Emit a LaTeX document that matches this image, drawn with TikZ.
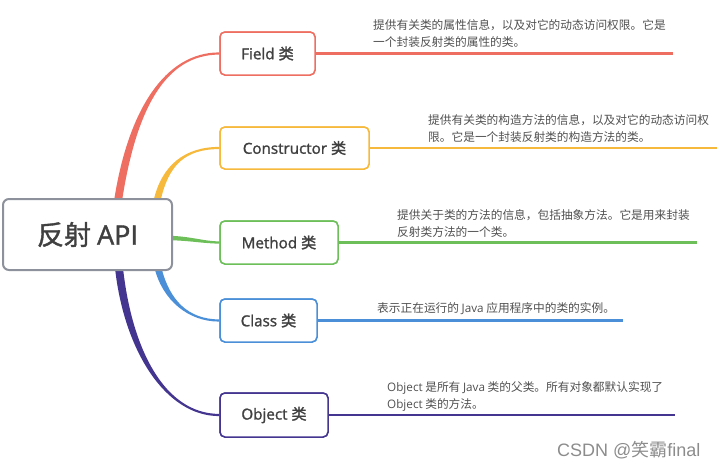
\documentclass[tikz,border=0pt]{standalone}
\usepackage{fontspec}
\setmainfont{Open Sans}
\newfontfamily\lab{Open Sans}[FakeBold=1.4]
\newfontfamily\cjk{Noto Sans CJK SC}
\newfontfamily\cjkb{Noto Sans CJK SC}[FakeBold=1.4]
\newfontfamily\wm{Liberation Sans}
\usetikzlibrary{calc}
\definecolor{cField}{HTML}{EE6F62}
\definecolor{cCons}{HTML}{F6B93B}
\definecolor{cMeth}{HTML}{6DBF5A}
\definecolor{cClass}{HTML}{4A8FD8}
\definecolor{cObj}{HTML}{433590}
\definecolor{cRoot}{HTML}{8C919B}
\definecolor{cText}{HTML}{404040}
\definecolor{cDesc}{HTML}{505050}
\newcommand\taper[7]{\fill[#1] ($#2+#6$) .. controls ($#3+#6$) and ($#4+#7$) .. ($#5+#7$) -- ($#5-#7$) .. controls ($#4-#7$) and ($#3-#6$) .. ($#2-#6$) -- cycle;}
\tikzset{
  branchbox/.style={draw, line width=1.5pt, rounded corners=5pt, fill=white, inner sep=0pt,
    text=cText, font=\lab\fontsize{15.2}{18}\selectfont},
  desc/.style={anchor=north west, inner sep=0pt, align=left, text=cDesc,
    font=\cjk\fontsize{11.7}{17}\selectfont},
  longline/.style={line width=2.1pt}
}
\begin{document}
\begin{tikzpicture}[x=1pt,y=-1pt]
\useasboundingbox (0,0) rectangle (720,469);
% boxes
\node[branchbox, draw=cField, minimum width=95pt, minimum height=43pt] (field) at (267.5,53.5) {Field {\cjkb 类}};
\node[branchbox, draw=cCons, minimum width=149pt, minimum height=42pt] (cons) at (294.5,148) {Constructor {\cjkb 类}};
\node[branchbox, draw=cMeth, minimum width=118pt, minimum height=43pt] (meth) at (279,242.5) {Method {\cjkb 类}};
\node[branchbox, draw=cClass, minimum width=97pt, minimum height=43pt] (class) at (268.5,320.5) {Class {\cjkb 类}};
\node[branchbox, draw=cObj, minimum width=108pt, minimum height=44pt] (obj) at (274,415) {Object {\cjkb 类}};
% start coordinates on the root
\coordinate (rF) at (118,201);
\coordinate (rC) at (157,201);
\coordinate (rM) at (170,238);
\coordinate (rK) at (158,268);
\coordinate (rO) at (119,268);
% tapered branches
\taper{cField}{(rF)}{(132,110)}{(165,53.5)}{(field.west)}{(4,0)}{(0,1.1)}
\taper{cCons}{(rC)}{(165,165)}{(185,148)}{(cons.west)}{(3.5,0)}{(0,1.1)}
\taper{cMeth}{(rM)}{(190,238.5)}{(205,242.5)}{(meth.west)}{(0,2.2)}{(0,1.1)}
\taper{cClass}{(rK)}{(166,300)}{(188,320.5)}{(class.west)}{(3.5,0)}{(0,-1.1)}
\taper{cObj}{(rO)}{(128,350)}{(165,415)}{(obj.west)}{(4,0)}{(0,-1.1)}
% root
\node[draw=cRoot, line width=2pt, rounded corners=6pt, fill=white, minimum width=169pt, minimum height=71pt,
  inner sep=0pt, text=cText, font=\cjkb\fontsize{27}{30}\selectfont] (root) at (87.5,234.5) {反射 {\lab API}};
% redraw boxes on top of branch ends
\node[branchbox, draw=cField, minimum width=95pt, minimum height=43pt] at (field) {Field {\cjkb 类}};
\node[branchbox, draw=cCons, minimum width=149pt, minimum height=42pt] at (cons) {Constructor {\cjkb 类}};
\node[branchbox, draw=cMeth, minimum width=118pt, minimum height=43pt] at (meth) {Method {\cjkb 类}};
\node[branchbox, draw=cClass, minimum width=97pt, minimum height=43pt] at (class) {Class {\cjkb 类}};
\node[branchbox, draw=cObj, minimum width=108pt, minimum height=44pt] at (obj) {Object {\cjkb 类}};
% long lines
\coordinate (fEnd) at (673,53.5);
\coordinate (cEnd) at (717,148);
\coordinate (mEnd) at (697,242.5);
\coordinate (kEnd) at (623,320.5);
\coordinate (oEnd) at (675,415);
\draw[longline, cField] (field.east) -- (fEnd);
\draw[longline, cCons] (cons.east) -- (cEnd);
\draw[longline, cMeth] (meth.east) -- (mEnd);
\draw[longline, cClass] (class.east) -- (kEnd);
\draw[longline, cObj] (obj.east) -- (oEnd);
% descriptions
\node[desc] (dF) at (373,19.5) {提供有关类的属性信息，以及对它的动态访问权限。它是\\一个封装反射类的属性的类。};
\node[desc] (dC) at (428,114.5) {提供有关类的构造方法的信息，以及对它的动态访问权\\限。它是一个封装反射类的构造方法的类。};
\node[desc] (dM) at (397,209) {提供关于类的方法的信息，包括抽象方法。它是用来封装\\反射类方法的一个类。};
\node[desc] (dK) at (377,302.5) {表示正在运行的 {\rmfamily Java} 应用程序中的类的实例。};
\node[desc] (dO) at (387,381.5) {{\rmfamily Object} 是所有 {\rmfamily Java} 类的父类。所有对象都默认实现了\\{\rmfamily Object} 类的方法。};
% watermark
\node[anchor=west, inner sep=0pt, text=black!45, font=\wm\fontsize{18}{20}\selectfont] (wm) at (557,450) {CSDN @{\cjk 笑霸}final};
\end{tikzpicture}
\end{document}
